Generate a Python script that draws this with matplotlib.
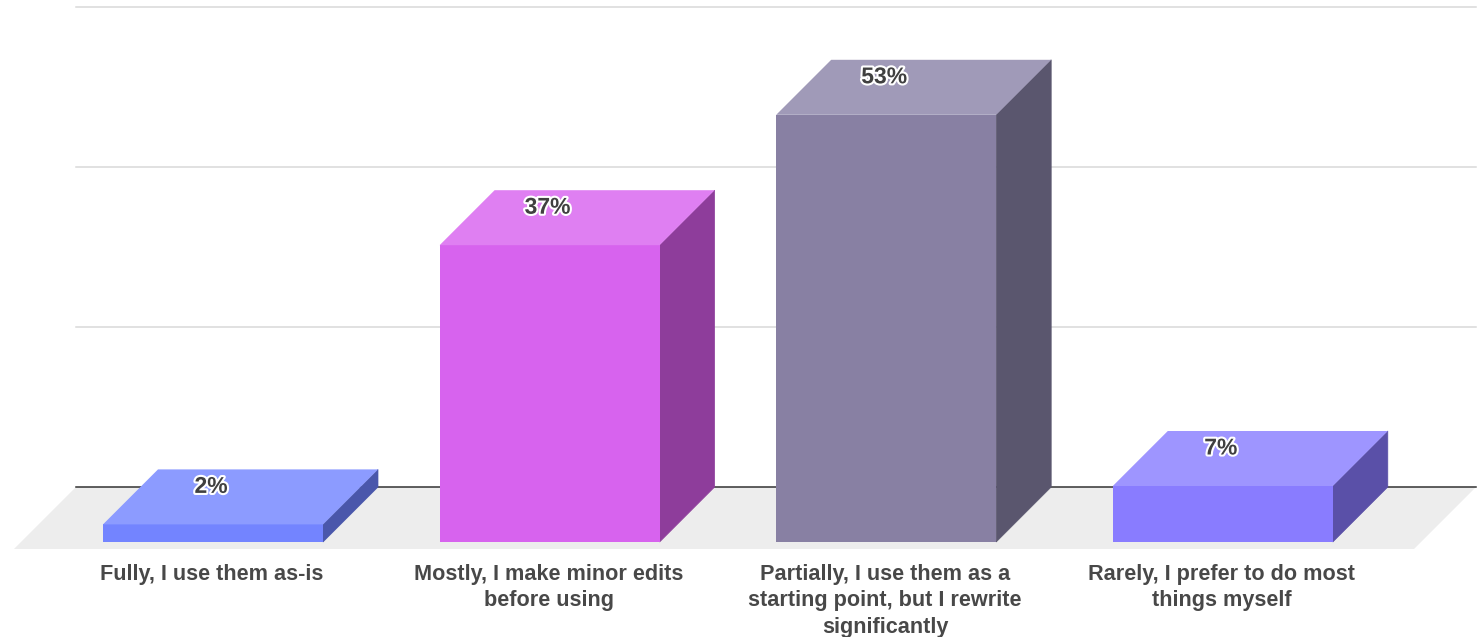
import matplotlib
matplotlib.use('Agg')
import matplotlib.pyplot as plt
import matplotlib.patheffects as pe

plt.rcParams['font.family'] = ['Liberation Sans', 'DejaVu Sans']

categories = ['Fully, I use them as-is',
              'Mostly, I make minor edits\nbefore using',
              'Partially, I use them as a\nstarting point, but I rewrite\nsignificantly',
              'Rarely, I prefer to do most\nthings myself']
values = [2.2, 37.1, 53.4, 7]
labels = ['2%', '37%', '53%', '7%']
grid_values = [20, 40, 60]
front_colors = ['#7384FF', '#D763EE', '#8880A3', '#897CFF']
top_colors = ['#8C9BFF', '#DF7FF2', '#A09AB8', '#9E95FF']
side_colors = ['#4A57AB', '#8E3D9B', '#5A566E', '#5A50A8']

W, H = 1481, 637
band = 336.6      # px per category
unit = 8.0        # px per percent
x0, y0 = 213, 542  # first bar centre, front baseline

fig = plt.figure(figsize=(W / 100, H / 100), dpi=100)
ax = fig.add_axes([0, 0, 1, 1])
ax.set_xlim(-x0 / band, (W - x0) / band)
ax.set_ylim((y0 - H) / unit, y0 / unit)
ax.axis('off')

bar_w = 220 / band
dx = 55 / band
dy = 55 / unit

# floor
floor_l, floor_r = (76 - x0) / band, (1476 - x0) / band
floor_front = -7 / unit
ax.fill([floor_l, floor_r, floor_r - 62 / band, floor_l - 62 / band],
        [dy, dy, floor_front, floor_front], color='#EDEDED', lw=0, zorder=1)

# back wall lines
for g in grid_values:
    ax.plot([floor_l, floor_r], [g + dy, g + dy], color='#D9D9D9', lw=1.1, zorder=2)
ax.plot([floor_l, floor_r], [dy, dy], color='#333333', lw=1.1, zorder=2)

for i, v in enumerate(values):
    l = i - bar_w / 2
    r = i + bar_w / 2
    # side goes first, a thin edge hides the seam against the front face
    ax.fill([r, r + dx, r + dx, r], [0, dy, v + dy, v], facecolor=side_colors[i],
            edgecolor=side_colors[i], lw=0.5, zorder=3)
    ax.bar(i, v, width=bar_w, color=front_colors[i], lw=0, zorder=3)
    ax.fill([l, r, r + dx, l + dx], [v, v, v + dy, v + dy], color=top_colors[i], lw=0, zorder=3)
    ax.text(i - 2 / band, v + dy - 17 / unit, labels[i], ha='center', va='center',
            fontsize=16.5, fontweight='bold', color='#404040', zorder=4,
            path_effects=[pe.withStroke(linewidth=3, foreground='white')])
    ax.text(i - 1 / band, -22 / unit, categories[i], ha='center', va='top',
            fontsize=15.55, fontweight='bold', color='#484848', linespacing=1.33, zorder=4)

fig.savefig('out.png', dpi=100, facecolor='white')
